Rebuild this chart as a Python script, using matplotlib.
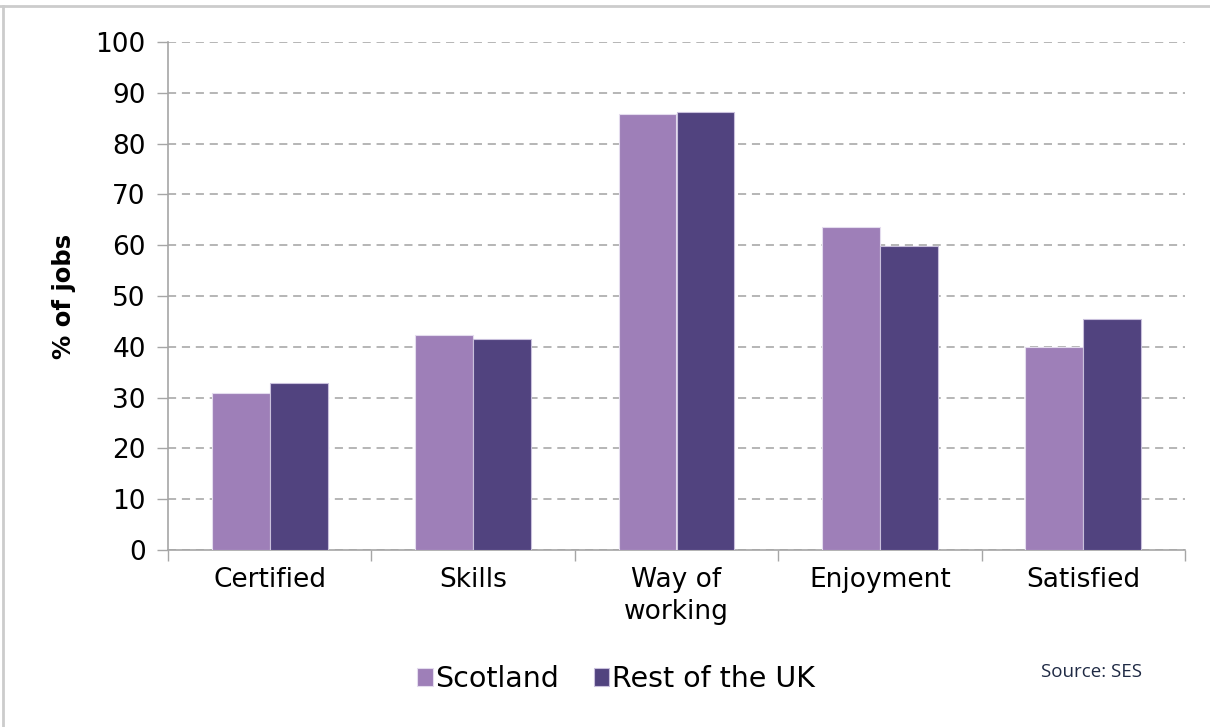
'''Job quality measures: Scotland vs the rest of the UK'''

import numpy as np
import matplotlib
matplotlib.use('Agg')
import matplotlib.pyplot as plt
from matplotlib.lines import Line2D

categories = ['Certified', 'Skills', 'Way of\nworking', 'Enjoyment', 'Satisfied']
scotland   = [30.9, 42.3, 85.8, 63.6, 40.0]
rest_uk    = [32.9, 41.5, 86.2, 59.8, 45.5]
series     = ['Scotland', 'Rest of the UK']
yticks     = list(range(0, 101, 10))

light  = '#9e7fb8'
dark   = '#51437f'
grey   = '#a6a6a6'

plt.rcParams['font.family'] = ['DejaVu Sans']

fig = plt.figure(figsize=(12.1, 7.27), dpi=100)
ax  = fig.add_axes([168/1210, 1-550/727, (1185-168)/1210, (550-42)/727])

x     = np.arange(len(categories))
width = 0.285
ax.bar(x - width/2, scotland, width, color=light, edgecolor='#e4dcee',
       linewidth=0.8, label=series[0], zorder=3)
ax.bar(x + width/2, rest_uk, width, color=dark, edgecolor='#c9c0dc',
       linewidth=0.8, label=series[1], zorder=3)

ax.set_xlim(-0.5, len(categories) - 0.5)
ax.set_ylim(0, 100)
ax.set_yticks(yticks)
ax.tick_params(axis='y', length=8, width=1, color=grey, labelsize=19, pad=8)
ax.yaxis.grid(True, color='#b0b0b0', linestyle=(0, (4.5, 3.2)), linewidth=1.3, zorder=0)

# category labels centred under the groups, ticks on the boundaries
ax.set_xticks(x)
ax.set_xticklabels(categories, fontsize=19, linespacing=1.3)
ax.tick_params(axis='x', length=0, pad=12)
ax.set_xticks(np.arange(len(categories) + 1) - 0.5, minor=True)
ax.tick_params(axis='x', which='minor', length=8, width=1, color=grey)

for side in ('top', 'right'):
      ax.spines[side].set_visible(False)
for side in ('left', 'bottom'):
      ax.spines[side].set_color(grey)
      ax.spines[side].set_linewidth(1.2)

ax.set_ylabel('% of jobs', fontsize=17.5, fontweight='bold', labelpad=14)

fig.legend(loc='center', bbox_to_anchor=(616/1210, 1-679/727), ncol=2,
           frameon=False, fontsize=20.5, handlelength=0.55, handleheight=0.55,
           handletextpad=0.1, columnspacing=1.2)

fig.text(1041/1210, 1-672/727, 'Source: SES', fontsize=13.5, color='#1f2a44',
         family=['Open Sans', 'DejaVu Sans'], va='center')

# thin frame along the top and left edges
fig.add_artist(Line2D([0, 1], [1-5.5/727, 1-5.5/727], transform=fig.transFigure,
                      color='#cccccc', linewidth=2))
fig.add_artist(Line2D([3/1210, 3/1210], [0, 1-5.5/727], transform=fig.transFigure,
                      color='#cccccc', linewidth=2))

fig.savefig('out.png', dpi=100)
